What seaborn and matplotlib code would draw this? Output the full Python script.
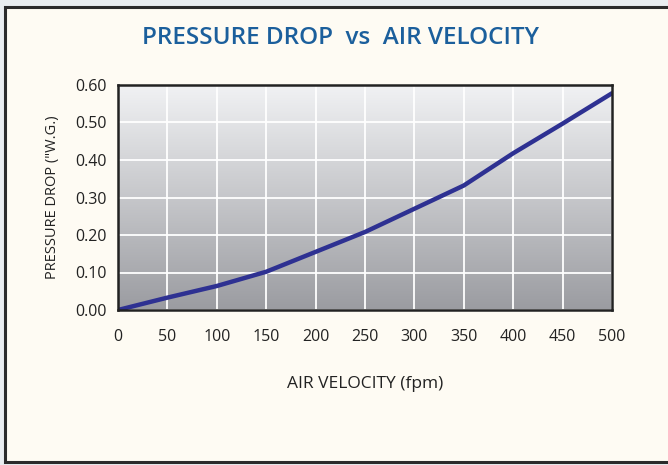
import numpy as np
import pandas as pd
import matplotlib
matplotlib.use("Agg")
import matplotlib.pyplot as plt
import seaborn as sns
from matplotlib.patches import Rectangle

# values
velocity = [0, 50, 100, 150, 200, 250, 300, 350, 400, 450, 500]
pressure = [0.0, 0.033, 0.064, 0.102, 0.155, 0.208, 0.27, 0.332, 0.418, 0.497, 0.578]
x_ticks = [0, 50, 100, 150, 200, 250, 300, 350, 400, 450, 500]
y_ticks = [0.0, 0.1, 0.2, 0.3, 0.4, 0.5, 0.6]

df = pd.DataFrame({"velocity": velocity, "pressure": pressure})

sns.set_style("white")
plt.rcParams['font.family'] = ['Open Sans', 'DejaVu Sans']

fig = plt.figure(figsize=(6.68, 4.65), dpi=100)
fig.patch.set_facecolor('#E9EDF0')
# cream panel with dark frame
fig.patches.append(Rectangle((5 / 668, 3 / 465), 668, 455 / 465, transform=fig.transFigure,
                             facecolor='#FEFBF3', edgecolor='#2B2B2B', linewidth=2.2, zorder=-5))

ax = fig.add_axes([118 / 668, 1 - 310 / 465, 494 / 668, 225 / 465])

# gradient background
grad = np.linspace(0, 1, 256).reshape(-1, 1)
cmap = matplotlib.colors.LinearSegmentedColormap.from_list('g', ['#F1F2F4', '#9B9CA1'])
ax.imshow(grad, aspect='auto', cmap=cmap, extent=[0, 1, 0, 1], transform=ax.transAxes, zorder=0)

sns.lineplot(data=df, x="velocity", y="pressure", ax=ax, color='#2E3192', linewidth=3.2,
             zorder=3, solid_capstyle='round')

ax.set_xlim(0, 500)
ax.set_ylim(0, 0.6)
ax.set_xticks(x_ticks)
ax.set_yticks(y_ticks)
ax.set_yticklabels([f"{v:.2f}" for v in y_ticks])
ax.grid(True, color='white', linewidth=1.3, zorder=1)
ax.set_axisbelow(False)
for line in ax.get_xgridlines() + ax.get_ygridlines():
    line.set_zorder(1)
for s in ax.spines.values():
    s.set_color('#222222')
    s.set_linewidth(1.8)
    s.set_zorder(4)
ax.tick_params(axis='both', labelsize=11.5, colors='#222222', length=0)
ax.tick_params(axis='x', pad=14)
ax.tick_params(axis='y', pad=8)

ax.set_xlabel('AIR VELOCITY (fpm)', fontsize=12.5, color='#222222', labelpad=22)
ax.set_ylabel('PRESSURE DROP ("W.G.)', fontsize=10.5, color='#222222', labelpad=11)

fig.text(340 / 668, 1 - 37.5 / 465, 'PRESSURE DROP  vs  AIR VELOCITY', ha='center', va='center',
         fontsize=17.5, color='#1B5F9C', fontweight='semibold')

fig.savefig('out.png', dpi=100, facecolor=fig.get_facecolor())
